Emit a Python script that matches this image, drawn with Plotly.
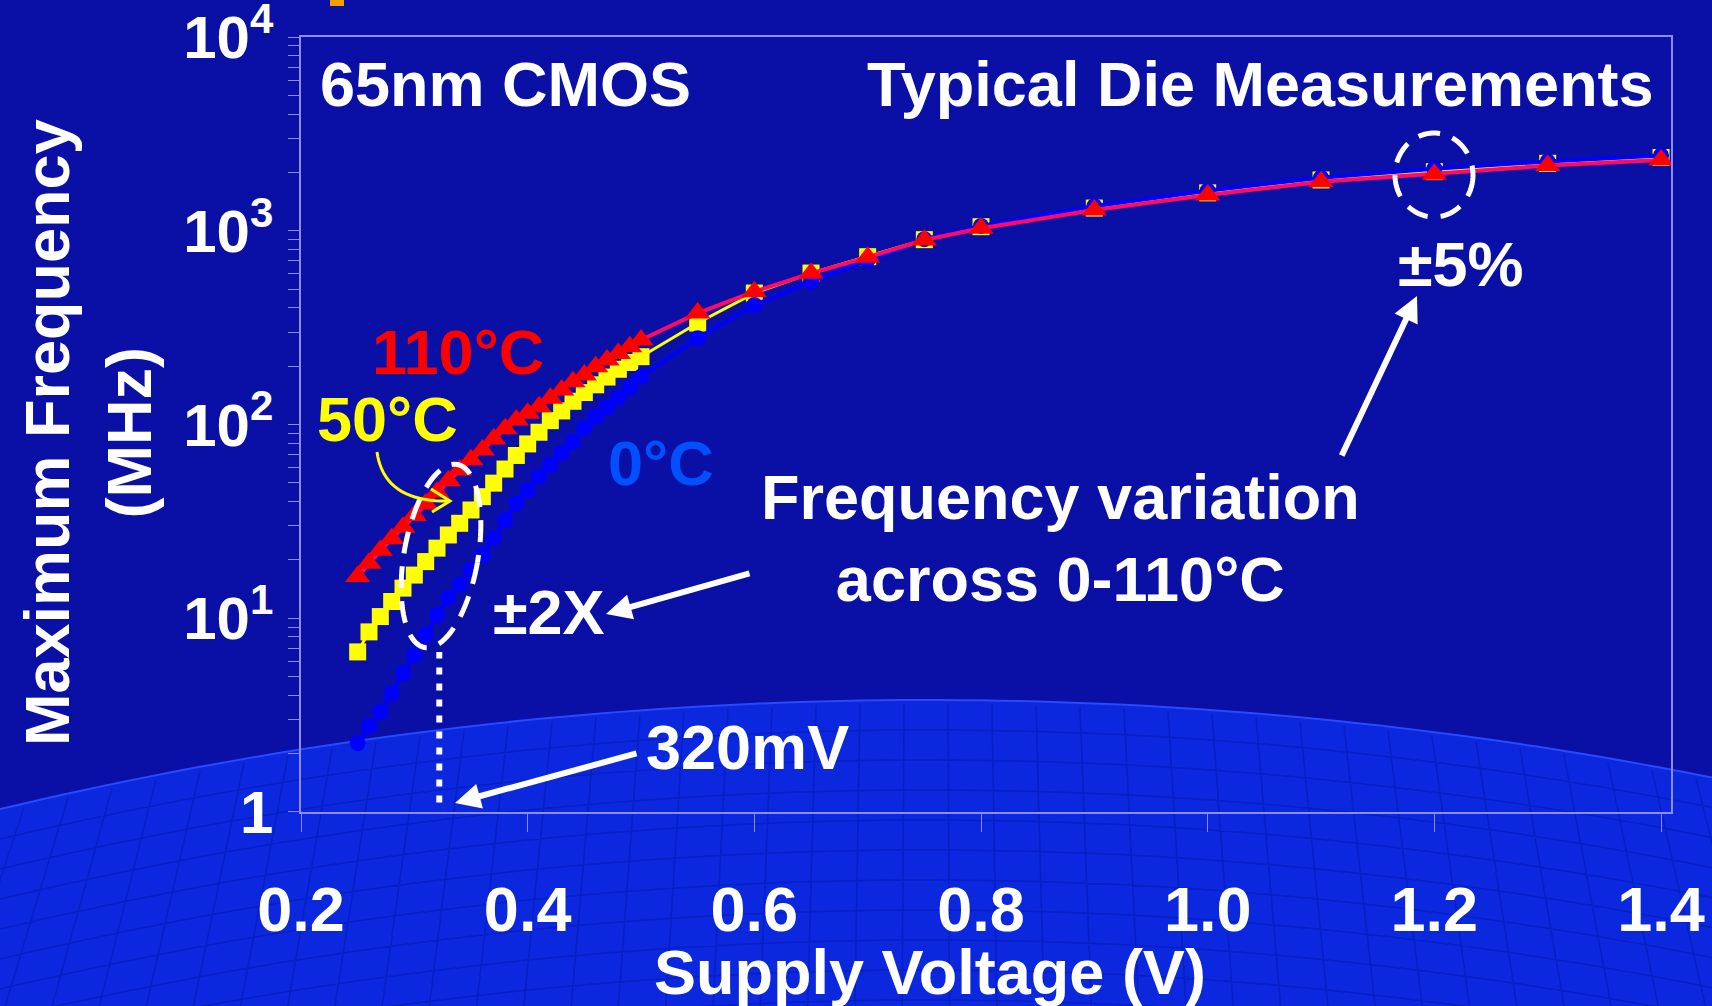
import math
import plotly.graph_objects as go

# ---------------- data ----------------
volts = [0.25, 0.26, 0.27, 0.28, 0.29, 0.30, 0.31, 0.32, 0.33, 0.34,
         0.35, 0.36, 0.37, 0.38, 0.39, 0.40, 0.41, 0.42, 0.43, 0.44,
         0.45, 0.46, 0.47, 0.48, 0.49, 0.50,
         0.55, 0.60, 0.65, 0.70, 0.75, 0.80, 0.90, 1.00, 1.10, 1.20, 1.30, 1.40]

f_0C = [2.26, 2.76, 3.29, 4.10, 5.20, 6.46, 8.20, 10.4, 12.7, 14.9,
        17.7, 21.2, 25.9, 32.0, 39.2, 45.9, 53.8, 61.8, 71.4, 81.5,
        95.5, 109.6, 122.7, 138.0, 155.6, 176.6,
        279, 414, 546, 707, 905, 1060, 1340, 1610, 1880, 2090, 2280, 2450]

f_50C = [6.7, 8.5, 10.2, 12.2, 14.3, 16.7, 19.6, 23.0, 26.9, 30.9,
         36.2, 42.4, 49.8, 58.9, 69.2, 79.4, 91.2, 104.7, 117.5, 131.8,
         146.2, 160.3, 175.8, 192.8, 208.9, 223.9,
         334, 477, 605, 735, 900, 1050, 1310, 1570, 1830, 2020, 2230, 2390]

f_110C = [16.4, 19.2, 22.4, 25.7, 29.5, 33.9, 38.9, 44.7, 51.3, 58.2,
          65.8, 73.8, 84.1, 95.1, 105.4, 114.3, 123.6, 136.5, 150.7, 166.3,
          179.9, 198.6, 215.3, 232.8, 252.3, 272.9,
          376, 485, 603, 730, 896, 1030, 1279, 1530, 1790, 1960, 2170, 2320]

x_tick_vals = [0.2, 0.4, 0.6, 0.8, 1.0, 1.2, 1.4]
x_tick_text = ["0.2", "0.4", "0.6", "0.8", "1.0", "1.2", "1.4"]
y_tick_vals = [1, 10, 100, 1000, 10000]
y_tick_text = ["1", "10<sup>1</sup>", "10<sup>2</sup>", "10<sup>3</sup>", "10<sup>4</sup>"]
y_minor_vals = [m * 10 ** d for d in range(4) for m in range(2, 10)]

v_320mV = 0.322          # dotted marker line position (V)
f_dot_range = [1.12, 6.7]

# ---------------- layout geometry ----------------
W, H = 1712, 1006
L, T, R, B = 301, 37, 1671, 812
FONT = "Liberation Sans, Arial, Helvetica, sans-serif"
BG = "#0a0fa6"
AXC = "#8c8cff"


def px(x):
    return (x - L) / (R - L)


def py(y):
    return (B - y) / (B - T)


def path_from_pixels(pts, close=False):
    s = "M " + " L ".join(f"{px(x):.5f},{py(y):.5f}" for x, y in pts)
    return s + (" Z" if close else "")


def ellipse_pixels(cx, cy, a, b, tilt_deg, n=90):
    t = math.radians(tilt_deg)
    pts = []
    for i in range(n + 1):
        u = 2 * math.pi * i / n
        ex, ey = b * math.cos(u), a * math.sin(u)
        pts.append((cx + ex * math.cos(t) - ey * math.sin(t),
                    cy + ex * math.sin(t) + ey * math.cos(t)))
    return pts


fig = go.Figure()

fig.add_trace(go.Scatter(
    x=volts, y=f_50C, mode="lines+markers", name="50°C",
    line=dict(color="#ffff00", width=3),
    marker=dict(symbol="square", size=17, color="#ffff00"),
))
fig.add_trace(go.Scatter(
    x=volts, y=f_0C, mode="lines+markers", name="0°C",
    line=dict(color="#0000ff", width=4),
    marker=dict(symbol="circle", size=16, color="#0000ff"),
))
fig.add_trace(go.Scatter(
    x=volts, y=f_110C, mode="lines+markers", name="110°C",
    line=dict(color="#ff0a64", width=4),
    marker=dict(symbol="triangle-up", size=22, color="#ff0000"),
))

shapes = []
# globe-like lighter region at the bottom
Rg, cxg, topg = 4000, 928, 700


def arc_y(xg, top):
    return top + Rg - math.sqrt(Rg ** 2 - (xg - cxg) ** 2)


globe = [(xg, arc_y(xg, topg)) for xg in range(-60, W + 80, 20)]
globe += [(W + 60, H + 80), (-60, H + 80)]
shapes.append(dict(type="path", xref="paper", yref="paper", layer="below",
                   path=path_from_pixels(globe, close=True),
                   fillcolor="#0b28de", line=dict(color="#2a48ff", width=2)))
# faint grid texture on the globe
grid = []
for k in range(1, 12):
    seg = [(xg, arc_y(xg, topg + 30 * k)) for xg in range(-40, W + 60, 40)]
    grid.append(path_from_pixels(seg))
for xm in range(-20, W + 40, 44):
    y_top = arc_y(xm, topg) + 4
    x_bot = cxg + (xm - cxg) * 1.08
    grid.append(path_from_pixels([(xm, y_top), (x_bot, H + 20)]))
shapes.append(dict(type="path", xref="paper", yref="paper", layer="below",
                   path=" ".join(grid),
                   line=dict(color="rgba(4,14,150,0.35)", width=1.5)))
# small orange clipped mark at top
shapes.append(dict(type="rect", xref="paper", yref="paper", layer="above",
                   x0=px(330), x1=px(344), y0=py(0), y1=py(6),
                   fillcolor="#f0a000", line=dict(width=0)))
# dashed ellipses
shapes.append(dict(type="path", xref="paper", yref="paper",
                   path=path_from_pixels(ellipse_pixels(441, 556, 93, 37, 10)),
                   line=dict(color="white", width=5, dash="22px,13px")))
shapes.append(dict(type="path", xref="paper", yref="paper",
                   path=path_from_pixels(ellipse_pixels(1434, 175, 42, 39, 0)),
                   line=dict(color="white", width=5, dash="22px,13px")))
# dotted 320 mV line
shapes.append(dict(type="line", xref="x", yref="y",
                   x0=v_320mV, x1=v_320mV, y0=f_dot_range[0], y1=f_dot_range[1],
                   line=dict(color="white", width=6, dash="7px,9px")))
# yellow curved arrow (50°C)
curve = []
p0, c0, p1 = (377, 452), (384, 502), (448, 501)
for i in range(21):
    t = i / 20
    curve.append(((1 - t) ** 2 * p0[0] + 2 * (1 - t) * t * c0[0] + t * t * p1[0],
                  (1 - t) ** 2 * p0[1] + 2 * (1 - t) * t * c0[1] + t * t * p1[1]))
shapes.append(dict(type="path", xref="paper", yref="paper",
                   path=path_from_pixels(curve), line=dict(color="#ffff00", width=3)))
shapes.append(dict(type="path", xref="paper", yref="paper",
                   path=path_from_pixels([(431, 489), (450, 501), (432, 512)]),
                   line=dict(color="#ffff00", width=3)))

ann = []


def label(text, x, y, size=63, color="white", xanchor="center", angle=0):
    ann.append(dict(text=text, x=px(x), y=py(y), xref="paper", yref="paper",
                    xanchor=xanchor, yanchor="middle", showarrow=False,
                    textangle=angle,
                    font=dict(family=FONT, size=size, color=color, weight="bold")))


def arrow(hx, hy, tx, ty):
    ann.append(dict(text="", x=px(hx), y=py(hy), xref="paper", yref="paper",
                    ax=tx - hx, ay=ty - hy, showarrow=True, arrowhead=2,
                    arrowsize=0.85, arrowwidth=6, arrowcolor="white", standoff=0))


label("65nm CMOS", 505, 84)
label("Typical Die Measurements", 1656, 84, xanchor="right")
label("110°C", 458, 352, color="#ff0000")
label("50°C", 387, 419, color="#ffff00")
label("0°C", 661, 463, color="#0050ff")
label("Frequency variation<br>across 0-110°C", 1060, 538)
label("±2X", 549, 612)
label("±5%", 1461, 264)
label("320mV", 747, 747)
label("Supply Voltage (V)", 930, 972)
label("Maximum Frequency<br>(MHz)", 88, 433, angle=-90)

arrow(606, 614, 751, 573)
arrow(1417, 296, 1341, 457)
arrow(455, 803, 638, 753)

fig.update_layout(
    width=W, height=H, autosize=False,
    margin=dict(l=L, r=W - R, t=T, b=H - B, pad=0, autoexpand=False),
    paper_bgcolor=BG, plot_bgcolor="rgba(0,0,0,0)",
    showlegend=False,
    font=dict(family=FONT, color="white"),
    shapes=shapes, annotations=ann,
    xaxis=dict(range=[0.2, 1.4088], tickmode="array", tickvals=x_tick_vals,
               ticktext=x_tick_text, ticks="outside", ticklen=18, tickwidth=1,
               tickcolor=AXC, showline=True, linecolor=AXC, linewidth=1.5,
               mirror=True, showgrid=False, zeroline=False, automargin=False,
               ticklabelstandoff=24, ticklabeloverflow="allow",
               tickfont=dict(family=FONT, size=63, color="white", weight="bold")),
    yaxis=dict(type="log", range=[-0.0004, 4.0004], tickmode="array",
               tickvals=y_tick_vals,
               ticktext=y_tick_text, ticks="outside", ticklen=11, tickwidth=1,
               tickcolor=AXC, showline=True, linecolor=AXC, linewidth=1.5,
               mirror=True, showgrid=False, zeroline=False, automargin=False,
               ticklabelstandoff=3, ticklabeloverflow="allow",
               minor=dict(tickmode="array", tickvals=y_minor_vals, ticks="outside",
                          ticklen=11, tickcolor=AXC, tickwidth=1, showgrid=False),
               tickfont=dict(family=FONT, size=60, color="white", weight="bold")),
)

fig.write_html("out.html")
